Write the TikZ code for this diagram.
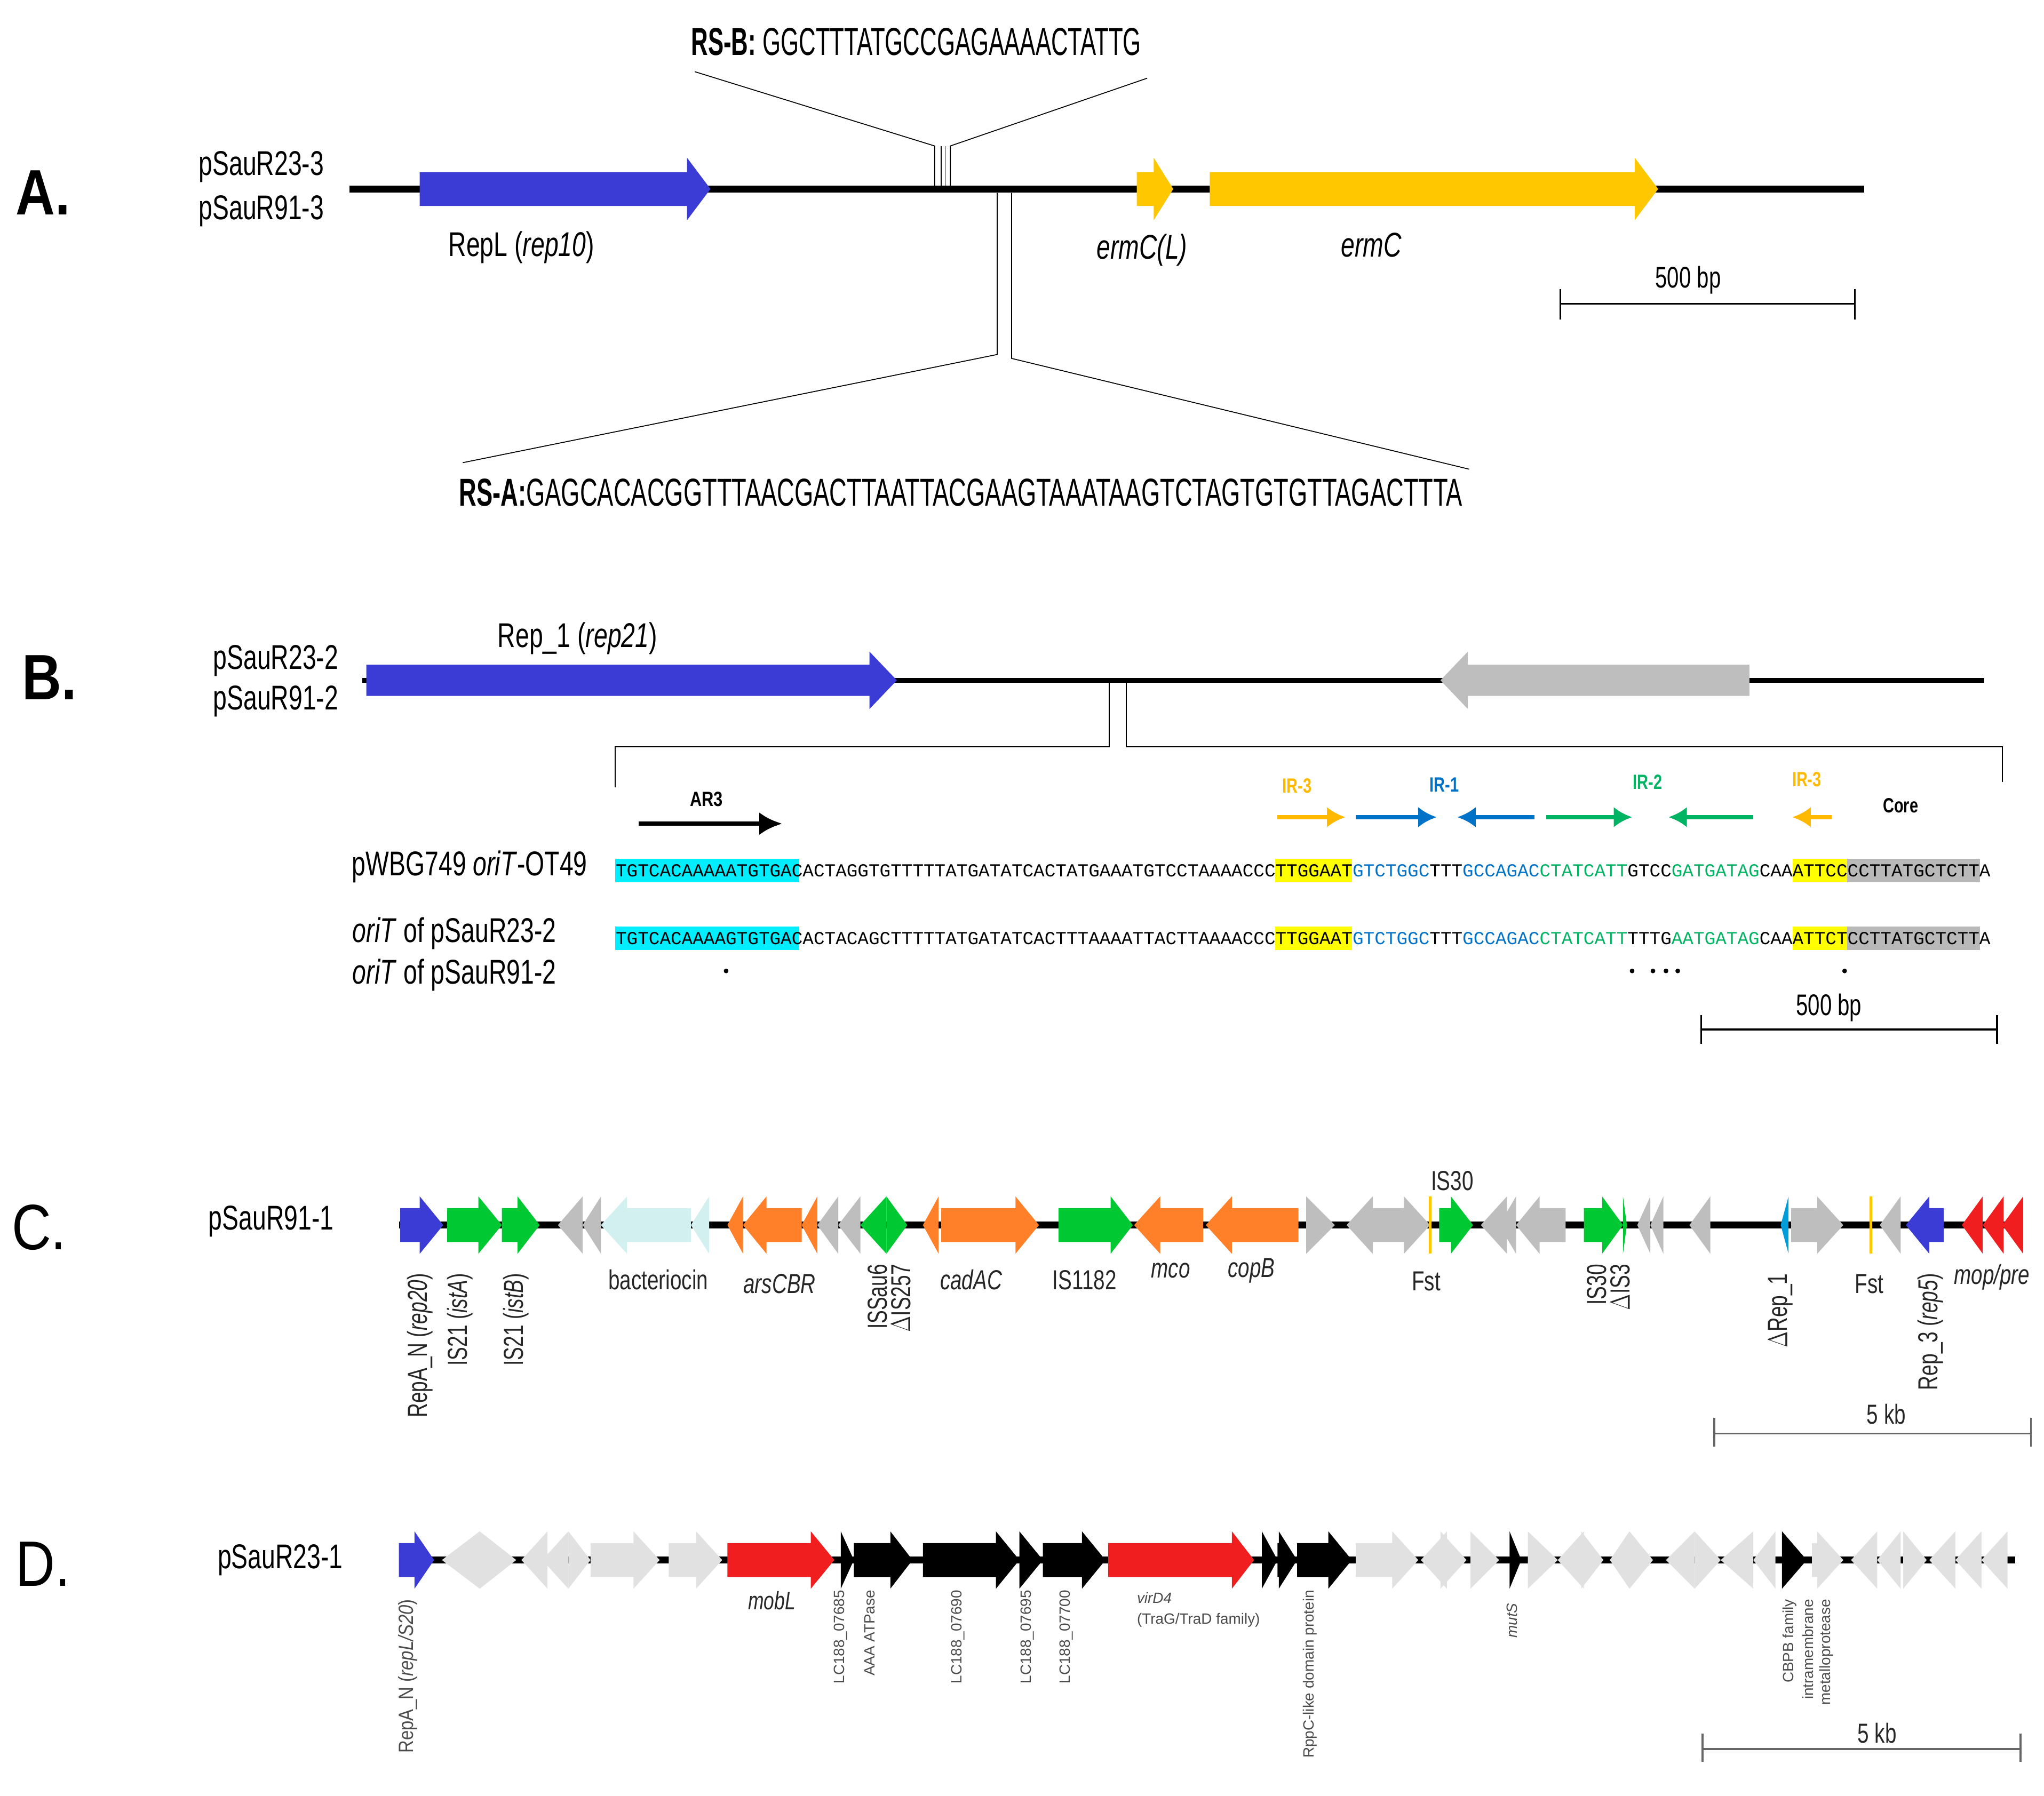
\documentclass[tikz,border=0pt]{standalone}
\usepackage{fontspec}
\usetikzlibrary{arrows.meta}
\setmainfont{Liberation Sans}
\setmonofont{Liberation Mono}
\definecolor{gblue}{RGB}{59,59,214}
\definecolor{gyel}{RGB}{255,199,0}
\definecolor{ggreen}{RGB}{0,200,50}
\definecolor{gorange}{RGB}{255,128,40}
\definecolor{gcyan}{RGB}{210,240,240}
\definecolor{ggray}{RGB}{190,190,190}
\definecolor{glgray}{RGB}{225,225,225}
\definecolor{gred}{RGB}{240,30,30}
\definecolor{irblue}{RGB}{0,115,200}
\definecolor{irgreen}{RGB}{0,180,100}
\definecolor{irorange}{RGB}{255,185,0}
\definecolor{hcyan}{RGB}{0,238,255}
\definecolor{hyel}{RGB}{255,255,0}
\definecolor{hgray}{RGB}{185,185,185}
\newcommand\gb{13}
\newcommand\gH{22}
% right-pointing gene: x1 x2 headlen colour y
\newcommand\rarr[5]{\fill[#4] (#1,{#5-\gb})--({#2-#3},{#5-\gb})--({#2-#3},{#5-\gH})--(#2,#5)--({#2-#3},{#5+\gH})--({#2-#3},{#5+\gb})--(#1,{#5+\gb})--cycle;}
% left-pointing gene: x1(tip) x2 headlen colour y
\newcommand\larr[5]{\fill[#4] (#2,{#5-\gb})--({#1+#3},{#5-\gb})--({#1+#3},{#5-\gH})--(#1,#5)--({#1+#3},{#5+\gH})--({#1+#3},{#5+\gb})--(#2,{#5+\gb})--cycle;}
\newcommand\nar[1]{\scalebox{0.72}[1]{#1}}
\tikzset{
 panel/.style={font=\fontsize{28}{28}\selectfont\bfseries, xscale=0.85},
 plas/.style={font=\fontsize{15}{15}\selectfont, xscale=0.72},
 seqA/.style={font=\fontsize{17}{17}\selectfont, xscale=0.6, inner sep=0},
 glab/.style={font=\fontsize{12}{12}\selectfont, xscale=0.75, text=black!85},
 rlab/.style={font=\fontsize{12}{12}\selectfont, rotate=90, anchor=east, text=black!85, inner sep=1pt},
 dlab/.style={font=\fontsize{6.5}{6.5}\selectfont, rotate=90, anchor=east, text=black!70, inner sep=1pt},
 mono/.style={font=\fontsize{8}{8}\selectfont\ttfamily, anchor=west, inner sep=0},
 bb/.style={line width=3pt},
 sbar/.style={line width=0.8pt},
}
\begin{document}
\begin{tikzpicture}[x=0.2mm,y=-0.2mm]
\useasboundingbox[fill=white] (0,0) rectangle (1568,1378);
% ================= A =================
\node[panel] (pA) at (33,148) {A.};
\node[plas,anchor=east] (a1) at (253,128) {pSauR23-3};
\node[plas,anchor=east] (a2) at (253,162) {pSauR91-3};
\draw[bb] (268,145) -- (1430,145);
\renewcommand\gb{13}\renewcommand\gH{24}
\rarr{322}{545}{18}{gblue}{145}
\rarr{872}{900}{15}{gyel}{145}
\rarr{928}{1272}{18}{gyel}{145}
\node[plas] (repl) at (400,190) {RepL (\textit{rep10})};
\node[plas] (ermcl) at (876,192) {\textit{ermC(L)}};
\node[plas] (ermc) at (1052,188) {\textit{ermC}};
\draw[sbar] (1197,233) -- (1423,233) (1197,222)--(1197,245) (1423,222)--(1423,245);
\node[plas,font=\fontsize{13}{13}\selectfont] (sa) at (1295,215) {500 bp};
% RS-B
\node[seqA,anchor=west] (rsb) at (530,32) {\textbf{RS-B:} GGCTTTATGCCGAGAAAACTATTG};
\draw[thin] (533,55) -- (717,112) -- (717,143);
\draw[thin] (880,60) -- (729,112) -- (729,143);
\draw[thin] (722,112) -- (722,143) (725,112)--(725,143);
% RS-A
\draw[thin] (765,148) -- (765,272) -- (355,355);
\draw[thin] (776,148) -- (776,275) -- (1127,360);
\node[seqA,anchor=west,xscale=1.035] (rsa) at (352,378) {\textbf{RS-A:}GAGCACACGGTTTAACGACTTAATTACGAAGTAAATAAGTCTAGTGTGTTAGACTTTA};
% ================= B =================
\node[panel] (pB) at (38,520) {B.};
\node[plas,anchor=east] (b1) at (264,507) {pSauR23-2};
\node[plas,anchor=east] (b2) at (264,538) {pSauR91-2};
\draw[line width=2pt] (278,522) -- (1522,522);
\renewcommand\gb{12}\renewcommand\gH{22}
\rarr{281}{688}{21}{gblue}{522}
\larr{1105}{1342}{21}{ggray}{522}
\node[plas] (rep1) at (443,490) {Rep\_1 (\textit{rep21})};
\draw[thin] (851,522) -- (851,573) -- (472,573) -- (472,604);
\draw[thin] (864,522) -- (864,573) -- (1536,573) -- (1536,600);
% annotation arrows
\draw[-{Latex[length=10pt,width=10pt]}, line width=2pt] (490,632) -- (600,632);
\node[font=\fontsize{9}{9}\selectfont\bfseries, xscale=0.8] (ar3) at (542,613) {AR3};
\tikzset{ira/.style={-{Latex[length=8pt,width=9pt]}, line width=2pt}}
\draw[ira,irorange] (980,627) -- (1032,627);
\draw[ira,irblue] (1040,627) -- (1102,627);
\draw[ira,irblue] (1177,627) -- (1118,627);
\draw[ira,irgreen] (1186,627) -- (1252,627);
\draw[ira,irgreen] (1345,627) -- (1280,627);
\draw[ira,irorange] (1405,627) -- (1375,627);
\tikzset{irl/.style={font=\fontsize{9}{9}\selectfont\bfseries, xscale=0.75}}
\node[irl,text=irorange] (i1) at (995,603) {IR-3};
\node[irl,text=irblue] (i2) at (1108,602) {IR-1};
\node[irl,text=irgreen] (i3) at (1264,600) {IR-2};
\node[irl,text=irorange] (i4) at (1386,598) {IR-3};
\node[irl,text=black] (core) at (1458,618) {Core};
% highlights
\foreach \yy in {668,720}{
 \fill[hcyan] (472,{\yy-9}) rectangle (613,{\yy+9});
 \fill[hyel] (978,{\yy-9}) rectangle (1037,{\yy+9});
 \fill[hyel] (1375,{\yy-9}) rectangle (1417,{\yy+9});
 \fill[hgray] (1417,{\yy-9}) rectangle (1519,{\yy+9});
}
\node[mono] (s1) at (472,668) {TGTCACAAAAATGTGACACTAGGTGTTTTTATGATATCACTATGAAATGTCCTAAAACCCTTGGAAT\textcolor{irblue}{GTCTGGC}TTT\textcolor{irblue}{GCCAGAC}\textcolor{irgreen}{CTATCATT}GTCC\textcolor{irgreen}{GATGATAG}CAAATTCCCCTTATGCTCTTA};
\node[mono] (s2) at (472,720) {TGTCACAAAAGTGTGACACTACAGCTTTTTATGATATCACTTTAAAATTACTTAAAACCCTTGGAAT\textcolor{irblue}{GTCTGGC}TTT\textcolor{irblue}{GCCAGAC}\textcolor{irgreen}{CTATCATT}TTTG\textcolor{irgreen}{AATGATAG}CAAATTCTCCTTATGCTCTTA};
\node[plas,anchor=east] (o1) at (455,665) {pWBG749 \textit{oriT}-OT49};
\node[plas,anchor=west] (o2) at (266,716) {\textit{oriT} of pSauR23-2};
\node[plas,anchor=west] (o3) at (266,748) {\textit{oriT} of pSauR91-2};
\foreach \xx in {557,1252,1268,1278,1287,1415}{\fill (\xx,745) circle (1.8);}
\draw[sbar] (1305,790) -- (1532,790) (1305,779)--(1305,801) (1532,779)--(1532,801);
\node[plas,font=\fontsize{13}{13}\selectfont] (sb) at (1403,773) {500 bp};
% ================= C =================
\node[panel,font=\fontsize{28}{28}\selectfont] (pC) at (30,942) {C.};
\node[plas] (c1) at (208,937) {pSauR91-1};
\draw[line width=3pt] (306,940) -- (1552,940);
\renewcommand\gb{13}\renewcommand\gH{22}
\rarr{307}{340}{18}{gblue}{940}
\rarr{343}{385}{18}{ggreen}{940}
\rarr{385}{414}{17}{ggreen}{940}
\larr{428}{447}{19}{ggray}{940}
\larr{447}{461}{14}{ggray}{940}
\larr{461}{530}{20}{gcyan}{940}
\larr{530}{544}{14}{gcyan}{940}
\larr{558}{570}{12}{gorange}{940}
\larr{570}{615}{18}{gorange}{940}
\larr{615}{627}{12}{gorange}{940}
\larr{627}{643}{16}{ggray}{940}
\larr{643}{660}{17}{ggray}{940}
\larr{660}{680}{20}{ggreen}{940}
\rarr{680}{696}{16}{ggreen}{940}
\larr{708}{720}{12}{gorange}{940}
\rarr{722}{797}{18}{gorange}{940}
\rarr{812}{869}{17}{ggreen}{940}
\larr{870}{923}{20}{gorange}{940}
\larr{925}{996}{20}{gorange}{940}
\rarr{1002}{1024}{22}{ggray}{940}
\larr{1033}{1053}{20}{ggray}{940}
\rarr{1053}{1097}{20}{ggray}{940}
\fill[gyel] (1096,918) rectangle (1098,962);
\rarr{1104}{1130}{17}{ggreen}{940}
\larr{1136}{1156}{20}{ggray}{940}
\larr{1150}{1163}{13}{ggray}{940}
\larr{1163}{1201}{18}{ggray}{940}
\rarr{1215}{1245}{16}{ggreen}{940}
\fill[ggreen] (1245,918) -- (1248,940) -- (1245,962) -- cycle;
\larr{1256}{1266}{10}{ggray}{940}
\larr{1266}{1276}{10}{ggray}{940}
\larr{1296}{1312}{16}{ggray}{940}
\fill[irblue!70!cyan] (1366,940) -- (1372,918) -- (1372,962) -- cycle;
\rarr{1374}{1414}{20}{ggray}{940}
\fill[gyel] (1434,918) rectangle (1436,962);
\larr{1442}{1458}{16}{ggray}{940}
\larr{1462}{1491}{18}{gblue}{940}
\larr{1505}{1521}{16}{gred}{940}
\larr{1521}{1537}{16}{gred}{940}
\larr{1536}{1552}{16}{gred}{940}
\node[rlab] (l1) at (322,975) {\nar{RepA\_N (\textit{rep20})}};
\node[rlab] (l2) at (353,975) {\nar{IS21 (\textit{istA})}};
\node[rlab] (l3) at (396,975) {\nar{IS21 (\textit{istB})}};
\node[glab] (l4) at (505,982) {bacteriocin};
\node[glab] (l5) at (598,985) {\textit{arsCBR}};
\node[rlab] (l6) at (673,968) {\nar{ISSau6}};
\node[rlab] (l7) at (691,968) {\nar{$\Delta$IS257}};
\node[glab] (l8) at (745,982) {\textit{cadAC}};
\node[glab] (l9) at (832,982) {IS1182};
\node[glab] (l10) at (898,975) {\textit{mco}};
\node[glab] (l11) at (960,975) {\textit{copB}};
\node[glab] (l12) at (1114,906) {IS30};
\node[glab] (l13) at (1094,983) {Fst};
\node[rlab] (l14) at (1225,968) {\nar{IS30}};
\node[rlab] (l15) at (1243,968) {\nar{$\Delta$IS3}};
\node[rlab] (l16) at (1366,975) {\nar{$\Delta$Rep\_1}};
\node[glab] (l17) at (1434,985) {Fst};
\node[rlab] (l18) at (1481,975) {\nar{Rep\_3 (\textit{rep5})}};
\node[glab] (l19) at (1528,980) {\textit{mop/pre}};
\draw[sbar,black!60] (1315,1100) -- (1558,1100) (1315,1088)--(1315,1110) (1558,1088)--(1558,1110);
\node[glab] (sc) at (1447,1085) {5 kb};
% ================= D =================
\node[panel,font=\fontsize{28}{28}\selectfont\mdseries] (pD) at (33,1200) {D.};
\node[plas] (d1) at (215,1197) {pSauR23-1};
\draw[line width=3pt] (306,1197) -- (1546,1197);
\renewcommand\gb{13}\renewcommand\gH{22}
\rarr{306}{333}{15}{gblue}{1197}
\larr{339}{368}{29}{glgray}{1197}
\rarr{368}{396}{28}{glgray}{1197}
\larr{400}{420}{20}{glgray}{1197}
\larr{416}{436}{20}{glgray}{1197}
\rarr{436}{453}{17}{glgray}{1197}
\rarr{453}{506}{20}{glgray}{1197}
\rarr{513}{554}{20}{glgray}{1197}
\rarr{558}{640}{18}{gred}{1197}
\rarr{645}{655}{10}{black}{1197}
\rarr{655}{700}{17}{black}{1197}
\rarr{708}{782}{18}{black}{1197}
\rarr{782}{800}{18}{black}{1197}
\rarr{800}{848}{18}{black}{1197}
\rarr{850}{962}{17}{gred}{1197}
\rarr{968}{980}{12}{black}{1197}
\rarr{980}{995}{14}{black}{1197}
\rarr{995}{1037}{18}{black}{1197}
\rarr{1040}{1088}{20}{glgray}{1197}
\larr{1090}{1110}{20}{glgray}{1197}
\rarr{1105}{1125}{20}{glgray}{1197}
\rarr{1128}{1150}{22}{glgray}{1197}
\rarr{1158}{1167}{9}{black}{1197}
\rarr{1172}{1195}{23}{glgray}{1197}
\larr{1195}{1215}{20}{glgray}{1197}
\rarr{1213}{1230}{17}{glgray}{1197}
\larr{1235}{1250}{15}{glgray}{1197}
\rarr{1250}{1268}{18}{glgray}{1197}
\larr{1278}{1300}{22}{glgray}{1197}
\rarr{1300}{1320}{20}{glgray}{1197}
\larr{1320}{1345}{25}{glgray}{1197}
\larr{1345}{1362}{17}{glgray}{1197}
\rarr{1367}{1386}{19}{black}{1197}
\rarr{1390}{1414}{20}{glgray}{1197}
\larr{1420}{1440}{20}{glgray}{1197}
\larr{1440}{1458}{18}{glgray}{1197}
\rarr{1460}{1478}{18}{glgray}{1197}
\larr{1480}{1500}{20}{glgray}{1197}
\larr{1500}{1520}{20}{glgray}{1197}
\larr{1520}{1540}{20}{glgray}{1197}
\node[dlab,font=\fontsize{9}{9}\selectfont] (m1) at (313,1225) {\scalebox{0.85}[1]{RepA\_N (\textit{repL/S20})}};
\node[glab,font=\fontsize{11}{11}\selectfont] (m2) at (592,1228) {\textit{mobL}};
\node[dlab] (m3) at (645,1218) {LC188\_07685};
\node[dlab] (m4) at (667,1218) {AAA ATPase};
\node[dlab] (m5) at (735,1218) {LC188\_07690};
\node[dlab] (m6) at (788,1218) {LC188\_07695};
\node[dlab] (m7) at (818,1218) {LC188\_07700};
\node[font=\fontsize{6.5}{6.5}\selectfont, text=black!70, anchor=west] (m8) at (866,1226) {\textit{virD4}};
\node[font=\fontsize{6.5}{6.5}\selectfont, text=black!70, anchor=west] (m9) at (866,1243) {(TraG/TraD family)};
\node[dlab] (m10) at (1005,1218) {RppC-like domain protein};
\node[dlab] (m11) at (1160,1228) {\textit{mutS}};
\node[dlab] (m12) at (1373,1225) {CBPB family};
\node[dlab] (m13) at (1387,1225) {intramembrane};
\node[dlab] (m14) at (1401,1225) {metalloprotease};
\draw[sbar,black!60] (1306,1342) -- (1550,1342) (1306,1330)--(1306,1352) (1550,1330)--(1550,1352);
\node[glab] (sd) at (1440,1330) {5 kb};
\end{tikzpicture}
\end{document}
